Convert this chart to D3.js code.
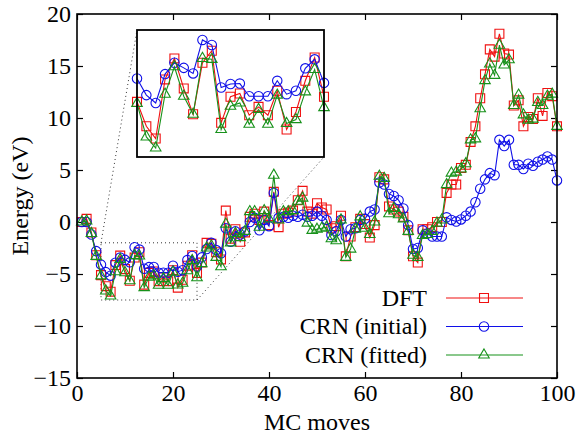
<!DOCTYPE html>
<html>
<head>
<meta charset="utf-8">
<script src="https://cdn.jsdelivr.net/npm/d3@7"></script>
<style>
  body { margin: 0; background: #fff; }
</style>
</head>
<body>
<div id="chart"></div>
<script>
// MC move index and energies (eV)
const moves = d3.range(1, 101);

const dft = [
  0.0, 0.3, -1.0, -3.2, -5.11, -6.17, -6.70, -4.14, -3.23, -4.53,
  -5.65, -3.42, -2.90, -6.02, -4.89, -4.75, -5.69, -5.33, -5.69, -4.63,
  -6.31, -5.55, -4.20, -3.19, -4.89, -3.9, -2.0, -2.1, -2.9, -3.6,
  1.1, -1.6, -0.7, -1.9, -1.0, 0.5, 0.8, 0.2, 1.0, -0.3,
  2.9, -0.5, 0.8, 0.9, 1.1, 2.1, 3.0, 1.0, 0.8, 1.8,
  1.4, 1.2, -0.6, -0.4, 0.6, -3.3, -1.4, -0.5, 0.3, -0.2,
  -1.5, -0.3, 4.3, 4.1, 1.5, 1.2, 1.0, 0.5, -0.8, -3.3,
  -3.9, -0.7, -0.7, -0.5, 0.0, 0.0, 2.8, 3.6, 3.6, 5.2,
  5.5, 7.7, 9.2, 11.9, 14.2, 16.6, 15.9, 18.1, 16.2, 16.1,
  11.2, 11.7, 9.2, 10.1, 9.9, 11.9, 10.2, 12.4, 12.1, 9.2
];

const crnInitial = [
  0.0, 0.0, -1.2, -2.8, -4.10, -4.82, -5.16, -3.91, -3.42, -3.64,
  -3.88, -2.43, -2.65, -4.49, -4.34, -4.32, -4.87, -4.87, -4.87, -4.20,
  -4.78, -4.63, -3.66, -3.27, -4.29, -3.4, -2.6, -2.0, -2.7, -3.0,
  -0.6, -1.9, -0.9, -1.2, -0.9, 0.0, 0.4, -0.8, 0.2, -0.4,
  2.8, 0.4, 0.5, 0.4, 0.6, 0.5, 0.7, 0.5, 0.6, 1.0,
  0.6, 0.2, -1.25, -0.9, 0.2, -1.4, -0.7, -0.6, 0.2, 0.3,
  1.0, 1.2, 3.8, 3.6, 2.7, 2.5, 2.1, 1.3, -0.3, -2.6,
  -2.5, -0.8, -1.1, -1.4, -1.4, -1.4, 0.45, 0.2, 0.05, 0.25,
  0.6, 1.0, 1.9, 3.2, 4.1, 4.7, 4.5, 7.9, 7.3, 7.9,
  5.5, 5.5, 5.1, 5.6, 5.4, 5.8, 6.0, 6.3, 6.0, 4.0
];

const crnFitted = [
  0.0, 0.1, -1.1, -3.3, -5.18, -6.63, -7.11, -4.78, -3.59, -4.87,
  -5.65, -3.23, -3.27, -6.31, -5.30, -5.16, -6.08, -5.44, -6.08, -4.82,
  -6.05, -5.88, -4.68, -3.71, -5.36, -4.0, -2.5, -2.3, -3.4, -4.3,
  -0.2, -2.0, -1.1, -1.5, -0.9, 1.0, 1.0, -0.5, 1.1, 0.3,
  4.5, 0.2, 1.0, 1.0, 1.1, 2.0, 2.3, -0.1, -0.8, -0.7,
  -0.6, -0.5, -1.6, -1.8, 0.2, -3.4, -2.6, -0.7, 0.5, -0.6,
  -1.2, 0.0, 4.4, 4.2, 0.8, 1.3, 0.7, 0.3, -0.9, -3.2,
  -3.4, -1.3, -1.2, -0.9, -0.1, 0.2, 3.6, 4.7, 4.8, 5.1,
  5.6, 7.9, 8.0, 10.9, 13.6, 15.2, 14.1, 17.0, 15.1, 15.6,
  11.2, 12.2, 10.3, 9.8, 9.9, 11.5, 11.2, 12.1, 12.3, 9.2
];

const seriesNames = ["DFT", "CRN (initial)", "CRN (fitted)"];
const xTicks = [0, 20, 40, 60, 80, 100];
const yTicks = [-15, -10, -5, 0, 5, 10, 15, 20];
const zoomX = [5, 25];
const zoomY = [-7.5, -2];

const width = 579, height = 438;
const margin = { top: 14, right: 22, bottom: 60, left: 77 };
const font = "Liberation Serif";
const fontSize = "24px";

const series = [
  { name: seriesNames[0], values: dft, color: "#f01010", symbol: d3.symbolSquare, size: 80 },
  { name: seriesNames[1], values: crnInitial, color: "#1010e8", symbol: d3.symbolCircle, size: 70 },
  { name: seriesNames[2], values: crnFitted, color: "#17911a", symbol: d3.symbolTriangle, size: 48 }
];

const svg = d3.select("#chart").append("svg")
  .attr("width", width)
  .attr("height", height)
  .style("font-family", font);

const x = d3.scaleLinear().domain([0, 100]).range([margin.left, width - margin.right]);
const y = d3.scaleLinear().domain([-15, 20]).range([height - margin.bottom, margin.top]);

// inset placement
const ix = d3.scaleLinear().domain(zoomX).range([137, 324]);
const iy = d3.scaleLinear().domain(zoomY).range([157, 30]);

const styleText = sel => sel
  .attr("font-family", font)
  .style("font-family", font)
  .attr("font-size", fontSize)
  .attr("fill", "#000");

// ticks, inward on all four sides
const tick = 6;
svg.append("g")
  .attr("transform", `translate(0,${y.range()[0]})`)
  .call(d3.axisBottom(x).tickValues(xTicks).tickSizeInner(-tick).tickSizeOuter(0).tickPadding(5))
  .call(g => g.select(".domain").remove())
  .call(g => g.attr("font-family", null))
  .call(g => styleText(g.selectAll("text")).attr("dy", "0.74em"));

svg.append("g")
  .attr("transform", `translate(0,${y.range()[1]})`)
  .call(d3.axisTop(x).tickValues(xTicks).tickSizeInner(-tick).tickSizeOuter(0).tickFormat(""))
  .call(g => g.select(".domain").remove());

svg.append("g")
  .attr("transform", `translate(${x.range()[0]},0)`)
  .call(d3.axisLeft(y).tickValues(yTicks).tickSizeInner(-tick).tickSizeOuter(0).tickPadding(6))
  .call(g => g.select(".domain").remove())
  .call(g => g.attr("font-family", null))
  .call(g => styleText(g.selectAll("text")));

svg.append("g")
  .attr("transform", `translate(${x.range()[1]},0)`)
  .call(d3.axisRight(y).tickValues(yTicks).tickSizeInner(-tick).tickSizeOuter(0).tickFormat(""))
  .call(g => g.select(".domain").remove());

svg.selectAll(".tick line").attr("stroke", "#000").attr("stroke-width", 1.2);

// dotted zoom box and connectors
const dotted = svg.append("g")
  .attr("fill", "none")
  .attr("stroke", "#333")
  .attr("stroke-width", 1)
  .attr("stroke-dasharray", "1,3");

dotted.append("rect")
  .attr("x", x(zoomX[0]))
  .attr("y", y(zoomY[1]))
  .attr("width", x(zoomX[1]) - x(zoomX[0]))
  .attr("height", y(zoomY[0]) - y(zoomY[1]));

dotted.append("line")
  .attr("x1", x(zoomX[0])).attr("y1", y(zoomY[1]))
  .attr("x2", ix(zoomX[0])).attr("y2", iy(zoomY[1]));

dotted.append("line")
  .attr("x1", x(zoomX[1])).attr("y1", y(zoomY[0]))
  .attr("x2", ix(zoomX[1])).attr("y2", iy(zoomY[0]));

// draws lines + open markers for a set of points
const drawSeries = (g, xs, ys, pts) => {
  series.forEach(s => {
    const data = pts.map(i => ({ x: moves[i], y: s.values[i] }));
    g.append("path")
      .datum(data)
      .attr("fill", "none")
      .attr("stroke", s.color)
      .attr("stroke-width", 1.1)
      .attr("d", d3.line().x(d => xs(d.x)).y(d => ys(d.y)));
    g.append("g")
      .selectAll("path")
      .data(data)
      .enter()
      .append("path")
      .attr("transform", d => `translate(${xs(d.x)},${ys(d.y)})`)
      .attr("d", d3.symbol().type(s.symbol).size(s.size))
      .attr("fill", "none")
      .attr("stroke", s.color)
      .attr("stroke-width", 1.1);
  });
};

drawSeries(svg.append("g"), x, y, d3.range(moves.length));

// inset
svg.append("rect")
  .attr("x", ix.range()[0])
  .attr("y", iy.range()[1])
  .attr("width", ix.range()[1] - ix.range()[0])
  .attr("height", iy.range()[0] - iy.range()[1])
  .attr("fill", "#fff");

const zoomIdx = d3.range(moves.length).filter(i => moves[i] >= zoomX[0] && moves[i] <= zoomX[1]);
drawSeries(svg.append("g"), ix, iy, zoomIdx);

svg.append("rect")
  .attr("x", ix.range()[0])
  .attr("y", iy.range()[1])
  .attr("width", ix.range()[1] - ix.range()[0])
  .attr("height", iy.range()[0] - iy.range()[1])
  .attr("fill", "none")
  .attr("stroke", "#000")
  .attr("stroke-width", 1.8);

// legend
const legend = svg.append("g");
series.forEach((s, i) => {
  const ly = 298 + i * 28.5;
  legend.append("text")
    .attr("x", 427)
    .attr("y", ly)
    .attr("dy", "0.33em")
    .attr("text-anchor", "end")
    .call(styleText)
    .text(s.name);
  legend.append("line")
    .attr("x1", 446).attr("x2", 523)
    .attr("y1", ly).attr("y2", ly)
    .attr("stroke", s.color)
    .attr("stroke-width", 1.1);
  legend.append("path")
    .attr("transform", `translate(484,${ly})`)
    .attr("d", d3.symbol().type(s.symbol).size(s.size))
    .attr("fill", "none")
    .attr("stroke", s.color)
    .attr("stroke-width", 1.1);
});

// frame
svg.append("rect")
  .attr("x", x.range()[0])
  .attr("y", y.range()[1])
  .attr("width", x.range()[1] - x.range()[0])
  .attr("height", y.range()[0] - y.range()[1])
  .attr("fill", "none")
  .attr("stroke", "#000")
  .attr("stroke-width", 1.6);

// axis titles
svg.append("text")
  .attr("x", (x.range()[0] + x.range()[1]) / 2)
  .attr("y", 430)
  .attr("text-anchor", "middle")
  .call(styleText)
  .text("MC moves");

svg.append("text")
  .attr("transform", `translate(28,${(y.range()[0] + y.range()[1]) / 2}) rotate(-90)`)
  .attr("text-anchor", "middle")
  .call(styleText)
  .text("Energy (eV)");
</script>
</body>
</html>
